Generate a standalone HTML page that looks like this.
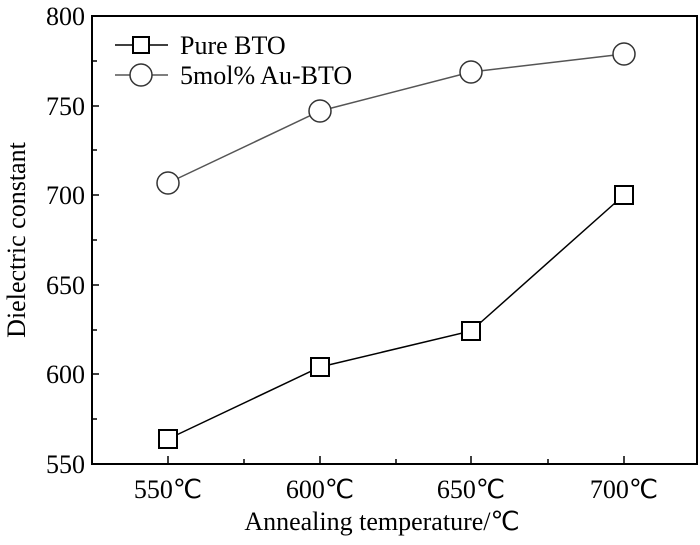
<!DOCTYPE html><html><head><style>body{margin:0;background:#fff}</style></head><body>
<svg width="700" height="540" xmlns="http://www.w3.org/2000/svg" font-family="Liberation Serif, serif" font-size="26" fill="#000">
<rect x="92" y="16" width="605" height="448" fill="none" stroke="#000" stroke-width="2"/>
<g stroke="#000" stroke-width="1.5">
<line x1="92" y1="106" x2="99" y2="106"/><line x1="92" y1="195" x2="99" y2="195"/><line x1="92" y1="285" x2="99" y2="285"/><line x1="92" y1="374" x2="99" y2="374"/>
<line x1="92" y1="61" x2="97" y2="61"/><line x1="92" y1="150" x2="97" y2="150"/><line x1="92" y1="240" x2="97" y2="240"/><line x1="92" y1="330" x2="97" y2="330"/><line x1="92" y1="419" x2="97" y2="419"/>
<line x1="168" y1="464" x2="168" y2="456"/><line x1="320" y1="464" x2="320" y2="456"/><line x1="471" y1="464" x2="471" y2="456"/><line x1="624" y1="464" x2="624" y2="456"/>
<line x1="244" y1="464" x2="244" y2="459"/><line x1="396" y1="464" x2="396" y2="459"/><line x1="548" y1="464" x2="548" y2="459"/>
</g>
<g text-anchor="end"><text x="85" y="25">800</text><text x="85" y="115">750</text><text x="85" y="204">700</text><text x="85" y="294">650</text><text x="85" y="383">600</text><text x="85" y="473">550</text></g>
<g text-anchor="middle"><text x="168" y="498">550℃</text><text x="320" y="498">600℃</text><text x="471" y="498">650℃</text><text x="624" y="498">700℃</text>
<text x="382" y="530">Annealing temperature/℃</text>
<text transform="translate(25,240) rotate(-90)">Dielectric constant</text></g>
<polyline points="168,439 320,367 471,331 624,195" fill="none" stroke="#000" stroke-width="1.5"/>
<polyline points="168,183 320,111 471,72 624,54" fill="none" stroke="#555" stroke-width="1.5"/>
<g fill="#fff" stroke="#000" stroke-width="2">
<rect x="159" y="430" width="18" height="18"/><rect x="311" y="358" width="18" height="18"/><rect x="462" y="322" width="18" height="18"/><rect x="615" y="186" width="18" height="18"/>
</g>
<g fill="#fff" stroke="#333" stroke-width="1.5">
<circle cx="168" cy="183" r="11"/><circle cx="320" cy="111" r="11"/><circle cx="471" cy="72" r="11"/><circle cx="624" cy="54" r="11"/>
</g>
<line x1="115" y1="45" x2="168" y2="45" stroke="#000" stroke-width="1.5"/>
<rect x="133" y="37" width="16" height="16" fill="#fff" stroke="#000" stroke-width="2"/>
<line x1="115" y1="75" x2="168" y2="75" stroke="#555" stroke-width="1.5"/>
<circle cx="141" cy="75" r="11" fill="#fff" stroke="#333" stroke-width="1.5"/>
<text x="180" y="54">Pure BTO</text><text x="180" y="84">5mol% Au-BTO</text>
</svg></body></html>
